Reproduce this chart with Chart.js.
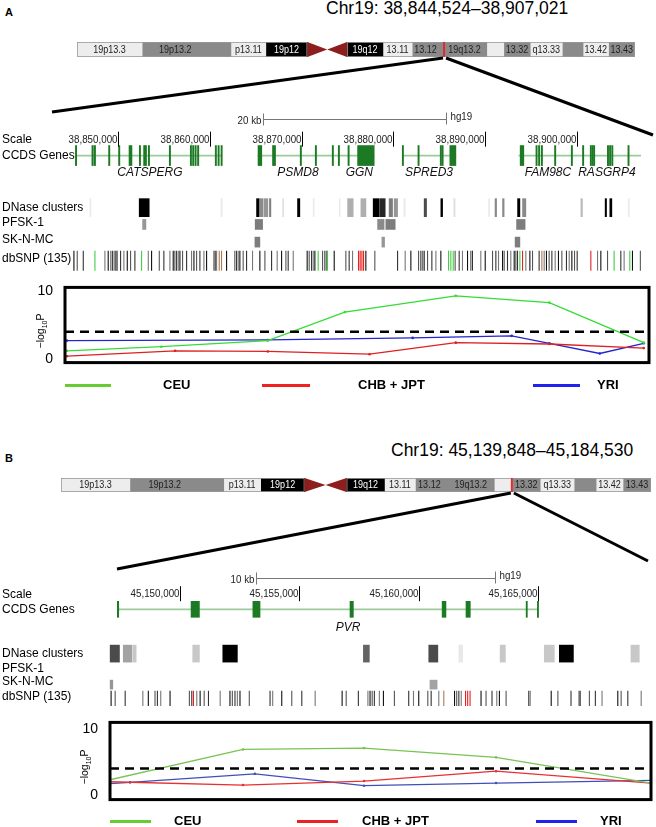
<!DOCTYPE html>
<html>
<head>
<meta charset="utf-8">
<script src="https://cdn.jsdelivr.net/npm/chart.js@4.4.0/dist/chart.umd.min.js"></script>
<style>
  body { margin: 0; background: #fff; font-family: "Liberation Sans", Arial, sans-serif; }
  #page { position: relative; width: 656px; height: 827px; overflow: hidden; }
  canvas { position: absolute; }
  .txt { position: absolute; white-space: nowrap; color: #000; }
  .plabel { font-weight: bold; font-size: 11px; line-height: 12px; }
  .title { font-size: 17.5px; line-height: 20px; }
  .legline { position: absolute; height: 3px; }
  .legtxt { font-weight: bold; font-size: 13px; line-height: 16px; }
</style>
</head>
<body>
<div id="page"></div>
<script>
// ---------- chromosome 19 ideogram (Mb) ----------
const bandStart = [0, 6.9, 13.9, 14.0, 16.3, 20.0, 24.4, 26.5, 28.6, 32.4, 35.5, 38.3, 38.7, 43.4, 45.2, 48.0, 51.4, 53.6, 56.3];
const bandEnd   = [6.9, 13.9, 14.0, 16.3, 20.0, 24.4, 26.5, 28.6, 32.4, 35.5, 38.3, 38.7, 43.4, 45.2, 48.0, 51.4, 53.6, 56.3, 59.1];
const bandStain = ['gneg','gpos50','gpos50','gpos50','gneg','gpos100','acenP','acenQ','gpos100','gneg','gpos50','gpos50','gpos50','gneg','gpos50','gneg','gpos50','gneg','gpos50'];
const bandNames = ['19p13.3','19p13.2','','','p13.11','19p12','','','19q12','13.11','13.12','','19q13.2','','13.32','q13.33','','13.42','13.43'];

// ---------- panel A : Chr19 38,844,524-38,907,021 (kb) ----------
const regionA = [38844.524, 38907.021];
const rulerA = [38850, 38860, 38870, 38880, 38890, 38900];
const geneSpanA = [[38845.39, 38861.31], [38865.23, 38877.92], [38881.05, 38886.83], [38893.69, 38907.0]];
const exonsA = [
  [38845.33,38845.47],[38847.13,38847.29],[38847.39,38847.53],[38848.95,38849.09],[38850.04,38850.18],
  [38851.18,38851.50],[38852.30,38852.44],[38852.77,38852.91],[38852.95,38853.09],[38853.28,38853.42],
  [38855.57,38855.71],[38857.86,38858.00],[38858.11,38858.25],[38858.37,38858.51],[38858.65,38858.79],
  [38860.58,38860.72],[38860.88,38861.02],[38861.21,38861.35],
  [38865.25,38865.66],[38866.83,38866.97],[38867.02,38867.16],[38869.85,38869.99],[38871.49,38871.63],
  [38873.34,38873.48],[38874.00,38874.14],[38875.06,38875.20],
  [38876.11,38877.92],
  [38880.98,38881.12],[38882.69,38882.83],[38885.12,38885.26],[38885.31,38885.45],[38886.17,38886.83],
  [38893.84,38894.24],[38895.56,38895.70],[38895.84,38895.98],[38896.14,38896.28],[38897.59,38897.73],[38899.41,38899.55],
  [38900.64,38900.78],[38901.48,38901.62],[38901.67,38901.81],[38901.84,38901.98],
  [38903.35,38903.49],[38903.58,38903.72],[38903.82,38903.96],[38905.59,38905.73]
];
const geneNamesA = ['CATSPERG', 'PSMD8', 'GGN', 'SPRED3', 'FAM98C', 'RASGRP4'];
const geneNamePosA = [38853.46, 38869.6, 38876.3, 38883.9, 38896.87, 38903.3];
const dnaseA = [
  [38846.91,38847.02],[38852.29,38853.38],[38861.20,38861.35],[38865.09,38865.38],[38865.45,38865.81],
  [38865.94,38866.32],[38866.50,38866.65],[38867.93,38868.05],[38869.56,38869.81],[38871.26,38871.38],
  [38874.10,38874.20],[38875.02,38875.63],[38876.47,38877.02],[38877.81,38878.46],[38878.54,38879.12],
  [38879.55,38879.92],[38880.10,38880.47],[38881.15,38881.30],[38883.37,38883.63],[38885.19,38885.38],
  [38886.60,38886.75],[38890.40,38890.52],[38891.10,38891.27],[38891.92,38892.09],[38893.56,38893.81],
  [38894.10,38894.46],[38900.46,38900.64],[38903.11,38903.26],[38903.62,38903.84],[38905.63,38905.75]
];
const dnaseScoreA = [0.06,1,0.06,1,0.45,0.4,0.5,0.1,1,0.06,0.06,0.3,0.3,1,0.85,0.5,0.4,0.06,0.7,1,0.1,0.06,0.45,0.45,1,0.45,0.25,1,1,0.06];
const pfskA = [[38852.66,38853.02],[38864.94,38865.75],[38878.29,38879.00],[38879.19,38880.21],[38893.45,38894.38]];
const pfskScoreA = [0.4, 0.5, 0.45, 0.5, 0.5];
const sknmcA = [[38864.91,38865.45],[38878.76,38879.05],[38893.29,38893.81]];
const sknmcScoreA = [0.5, 0.4, 0.5];
const snpA = [38845.17,38845.53,38846.19,38848.55,38848.91,38849.20,38849.39,38849.57,38849.75,38849.89,
  38850.26,38850.62,38850.99,38851.35,38851.82,38853.28,38853.64,38854.48,38854.98,38855.64,38856.00,38856.18,
  38856.37,38856.55,38856.73,38857.02,38857.46,38858.00,38858.26,38858.55,38858.91,38859.35,38859.64,38860.44,
  38860.58,38860.73,38861.82,38862.72,38862.91,38863.09,38863.27,38863.63,38864.00,38864.65,38865.45,38866.00,
  38866.73,38867.34,38867.82,38868.29,38868.54,38869.09,38870.61,38870.83,38871.09,38871.27,38871.45,38872.29,
  38872.54,38872.72,38873.56,38874.83,38875.19,38875.56,38877.01,38877.99,38880.47,38881.30,38881.92,38882.76,
  38883.01,38883.19,38883.37,38883.74,38884.21,38884.65,38885.19,38886.75,38887.19,38887.55,38888.10,38888.46,
  38888.64,38889.55,38890.03,38890.83,38891.19,38891.48,38891.92,38892.10,38892.46,38892.82,38893.19,38893.37,
  38893.55,38894.46,38894.90,38895.19,38895.91,38896.46,38896.71,38897.00,38897.30,38897.66,38898.02,38898.39,
  38898.89,38899.19,38899.48,38899.77,38900.06,38902.28,38902.64,38903.37,38904.82,38905.18,38906.09,38906.95];
const snpGreenA = [38847.46,38852.55,38871.81,38872.83,38886.03,38886.28,38886.54,38893.81,38904.09,38905.80];
const snpRedA = [38876.21,38876.39,38876.58,38876.76,38901.55,38894.10];
const snpBrownA = [38861.02,38861.27,38896.21];

// association plot A (x in kb, y = -log10 p)
const plotRangeA = [38844.19, 38907.87];
const ceuA = [[38844.4,1.2],[38854.7,1.8],[38866.3,2.7],[38874.7,6.9],[38886.8,9.3],[38897.0,8.3],[38907.3,2.4]];
const chbA = [[38844.4,0.4],[38856.2,1.2],[38866.3,1.1],[38877.4,0.7],[38886.8,2.4],[38897.0,2.2],[38907.3,1.6]];
const yriA = [[38844.4,2.7],[38866.3,2.8],[38882.1,3.1],[38892.9,3.4],[38897.0,2.3],[38902.5,0.8],[38907.3,2.3]];

// ---------- panel B : Chr19 45,139,848-45,184,530 (kb) ----------
const regionB = [45146.98, 45169.48];
const rulerB = [45150, 45155, 45160, 45165];
const geneSpanB = [[45147.37, 45164.99]];
const exonsB = [[45147.37,45147.43],[45150.46,45150.81],[45153.05,45153.35],[45157.12,45157.26],
  [45160.98,45161.14],[45161.98,45162.16],[45164.50,45164.55],[45164.97,45165.02]];
const geneNamesB = ['PVR'];
const geneNamePosB = [45157.04];
const dnaseB = [[45147.07,45147.46],[45147.62,45147.98],[45148.02,45148.16],[45150.53,45150.81],[45151.79,45152.40],
  [45157.68,45157.93],[45160.42,45160.80],[45161.68,45161.84],[45163.41,45163.63],[45165.26,45165.68],
  [45165.89,45166.48],[45168.89,45169.24]];
const dnaseScoreB = [0.7,0.35,0.2,0.2,1,0.6,0.7,0.07,0.2,0.2,1,0.2];
const pfskB = [];
const pfskScoreB = [];
const sknmcB = [[45147.07,45147.18],[45160.47,45160.77]];
const sknmcScoreB = [0.4, 0.35];
const snpB = [45147.11,45147.28,45147.70,45148.44,45148.67,45148.95,45149.05,45149.19,45149.58,45150.39,45150.49,
  45150.70,45150.84,45151.01,45151.19,45151.68,45152.09,45152.19,45152.30,45152.40,45152.51,45152.90,45153.77,
  45153.88,45154.26,45154.68,45155.10,45155.66,45156.79,45156.96,45157.47,45157.87,45157.96,45158.05,45158.14,
  45158.35,45158.52,45158.98,45159.58,45159.78,45160.00,45160.38,45160.52,45160.84,45161.50,45161.59,45161.68,
  45161.78,45162.61,45162.82,45163.07,45163.27,45163.38,45163.66,45164.61,45164.67,45165.55,45165.83,45166.38,
  45166.71,45166.76,45167.15,45167.40,45167.68,45168.34,45168.48,45168.76,45169.32];
const snpGreenB = [];
const snpRedB = [45161.96,45162.05,45162.15,45150.56];
const snpBrownB = [45161.05];

const plotRangeB = [45147.07, 45169.73];
const ceuB = [[45147.07,2.3],[45152.64,6.9],[45157.71,7.1],[45163.24,5.7],[45169.73,1.8]];
const chbB = [[45147.07,2.0],[45152.64,1.5],[45157.71,2.1],[45163.24,3.6],[45169.73,1.8]];
const yriB = [[45147.07,1.7],[45147.91,1.9],[45153.14,3.2],[45157.71,1.4],[45163.24,1.8],[45169.73,2.2]];

const threshold = 4;
const yTicks = [0, 10];
const trackNames = ['Scale', 'CCDS Genes', 'DNase clusters', 'PFSK-1', 'SK-N-MC', 'dbSNP (135)'];
const seriesNames = ['CEU', 'CHB + JPT', 'YRI'];

// ---------- drawing ----------
const page = document.getElementById('page');
const SANS = '"Liberation Sans", Arial, sans-serif';
const stainColor = { gneg: '#ededed', gpos50: '#8a8a8a', gpos100: '#000000' };
const acenColor = '#8e1d1d';
const gray = s => { const g = Math.round(250 * (1 - s)); return `rgb(${g},${g},${g})`; };

function addCanvas(left, top, w, h) {
  const c = document.createElement('canvas');
  c.width = w; c.height = h;
  Object.assign(c.style, { left: left + 'px', top: top + 'px', width: w + 'px', height: h + 'px' });
  page.appendChild(c);
  return c;
}
function addText(txt, cls, left, top) {
  const d = document.createElement('div');
  d.className = 'txt ' + cls;
  d.textContent = txt;
  d.style.left = left + 'px'; d.style.top = top + 'px';
  page.appendChild(d);
  return d;
}
function narrow(ctx, txt, x, y, align, sx) {
  ctx.save(); ctx.translate(x, y); ctx.scale(sx, 1);
  ctx.textAlign = align; ctx.fillText(txt, 0, 0); ctx.restore();
}

function ideogram(box, markerMb) {
  const cv = addCanvas(box.left, box.top, box.w, box.h);
  const plugin = {
    id: 'ideo',
    afterDatasetsDraw(chart) {
      const { ctx, chartArea: a, scales: { x } } = chart;
      const mid = (a.top + a.bottom) / 2;
      ctx.save();
      ctx.strokeStyle = '#9a9a9a'; ctx.lineWidth = 0.8;
      ctx.strokeRect(x.getPixelForValue(0) + 0.5, a.top + 0.5, x.getPixelForValue(24.4) - x.getPixelForValue(0) - 1, a.bottom - a.top - 1);
      ctx.strokeRect(x.getPixelForValue(28.6) + 0.5, a.top + 0.5, x.getPixelForValue(59.1) - x.getPixelForValue(28.6) - 1, a.bottom - a.top - 1);
      bandStart.forEach((s, i) => {
        const x0 = x.getPixelForValue(s), x1 = x.getPixelForValue(bandEnd[i]);
        if (bandStain[i] === 'acenP' || bandStain[i] === 'acenQ') {
          ctx.fillStyle = acenColor;
          ctx.beginPath();
          if (bandStain[i] === 'acenP') { ctx.moveTo(x0, a.top); ctx.lineTo(x1, mid); ctx.lineTo(x0, a.bottom); }
          else { ctx.moveTo(x1, a.top); ctx.lineTo(x0, mid); ctx.lineTo(x1, a.bottom); }
          ctx.closePath(); ctx.fill();
        }
        if (bandNames[i]) {
          ctx.fillStyle = bandStain[i] === 'gpos100' ? '#fff' : '#222';
          ctx.font = `10px ${SANS}`; ctx.textBaseline = 'middle';
          narrow(ctx, bandNames[i], (x0 + x1) / 2, mid + 0.5, 'center', 0.9);
        }
      });
      const mx = x.getPixelForValue(markerMb);
      ctx.strokeStyle = '#e8262b'; ctx.lineWidth = 2;
      ctx.beginPath(); ctx.moveTo(mx, a.top - 1); ctx.lineTo(mx, a.bottom + 1); ctx.stroke();
      ctx.restore();
    }
  };
  return new Chart(cv, {
    type: 'bar',
    data: {
      labels: ['chr19'],
      datasets: bandStart.map((s, i) => ({
        data: [[s, bandEnd[i]]],
        backgroundColor: bandStain[i].startsWith('acen') ? 'rgba(0,0,0,0)' : stainColor[bandStain[i]],
        borderWidth: 0, grouped: false, barPercentage: 1, categoryPercentage: 1
      }))
    },
    options: {
      indexAxis: 'y', animation: false, responsive: false, events: [],
      layout: { padding: 0 },
      plugins: { legend: { display: false }, tooltip: { enabled: false } },
      scales: { x: { type: 'linear', min: 0, max: 59.1, display: false }, y: { display: false } }
    },
    plugins: [plugin]
  });
}

function tracks(P) {
  const cv = addCanvas(0, P.top, 656, P.h);
  const R = P.rows;
  const bars = (pairs, y, thick, color) => ({
    type: 'bar', indexAxis: 'y', grouped: false, barThickness: thick,
    data: pairs.map(p => ({ x: [p[0], p[1]], y })),
    backgroundColor: color, borderWidth: 0
  });
  const snps = (pos, colors) => ({
    type: 'scatter',
    data: pos.map(v => ({ x: v, y: R.dbsnp })),
    pointStyle: 'line', pointRotation: 90, pointRadius: P.snpH / 2,
    pointBorderWidth: 1.1, pointBorderColor: colors, pointBackgroundColor: colors
  });
  const grays = ['#111', '#555', '#333', '#777'];
  const plugin = {
    id: 'tracklabels',
    afterDatasetsDraw(chart) {
      const { ctx, scales: { x, y } } = chart;
      ctx.save();
      ctx.fillStyle = '#000'; ctx.strokeStyle = '#000';
      ctx.font = `12px ${SANS}`; ctx.textBaseline = 'middle'; ctx.textAlign = 'left';
      const labelRows = [R.ruler, R.genes, R.dnase, R.pfsk - 2, R.sknmc - 3, R.dbsnp - 2];
      trackNames.forEach((t, i) => ctx.fillText(t, 2, y.getPixelForValue(labelRows[i])));
      // ruler
      ctx.font = `11.5px ${SANS}`; ctx.fillStyle = '#222'; ctx.lineWidth = 1;
      P.ruler.forEach(v => {
        const px = Math.round(x.getPixelForValue(v)) + 0.5, py = y.getPixelForValue(R.ruler);
        narrow(ctx, (v * 1000).toLocaleString('en-US'), px - 1, py, 'right', 0.85);
        ctx.beginPath(); ctx.moveTo(px, py - 8); ctx.lineTo(px, py + 7); ctx.stroke();
      });
      // scale bar
      const sb = P.scaleBar, sy = Math.round(y.getPixelForValue(R.scalebar)) + 0.5;
      const s0 = Math.round(x.getPixelForValue(sb.start)) + 0.5, s1 = Math.round(x.getPixelForValue(sb.start + sb.len)) + 0.5;
      ctx.strokeStyle = '#777';
      ctx.beginPath(); ctx.moveTo(s0, sy); ctx.lineTo(s1, sy);
      ctx.moveTo(s0, sy - 6); ctx.lineTo(s0, sy + 6); ctx.moveTo(s1, sy - 7); ctx.lineTo(s1, sy + 5); ctx.stroke();
      ctx.fillStyle = '#222';
      narrow(ctx, sb.len + ' kb', s0 - 2, sy + 1, 'right', 0.85);
      narrow(ctx, 'hg19', s1 + 4, sy - 3, 'left', 0.85);
      // gene names
      ctx.fillStyle = '#111'; ctx.font = `italic 12px ${SANS}`; ctx.textAlign = 'center';
      P.geneNames.forEach((g, i) => ctx.fillText(g, x.getPixelForValue(P.geneNamePos[i]), y.getPixelForValue(R.names)));
      ctx.restore();
    }
  };
  return new Chart(cv, {
    type: 'bar',
    data: {
      datasets: [
        snps(P.snpRed, '#e82020'),
        snps(P.snpGreen, '#44cc44'),
        snps(P.snpBrown, '#b07a50'),
        snps(P.snp, P.snp.map((v, i) => grays[i % 4])),
        bars(P.sknmc, R.sknmc, P.smallH, P.sknmcScore.map(gray)),
        bars(P.pfsk, R.pfsk, P.smallH, P.pfskScore.map(gray)),
        bars(P.dnase, R.dnase, P.dnaseH, P.dnaseScore.map(gray)),
        bars(P.exons, R.genes, P.exonH, '#1d7a24'),
        bars(P.geneSpan, R.genes, 1, '#9ccc9c')
      ]
    },
    options: {
      animation: false, responsive: false, events: [],
      layout: { padding: { left: P.padL, right: P.padR, top: 0, bottom: 0 } },
      plugins: { legend: { display: false }, tooltip: { enabled: false } },
      scales: {
        x: { type: 'linear', min: P.region[0], max: P.region[1], display: false, offset: false },
        y: { type: 'linear', min: 0, max: P.h, reverse: true, display: false, offset: false }
      }
    },
    plugins: [plugin]
  });
}

function assocPlot(P) {
  const cv = addCanvas(0, P.top, 656, P.h);
  const pts = arr => arr.map(([x, y]) => ({ x, y }));
  const line = (data, color) => ({
    data: pts(data), borderColor: color, backgroundColor: color, borderWidth: 1.3,
    pointRadius: 1.3, pointBorderWidth: 0, tension: 0
  });
  const plugin = {
    id: 'box',
    afterDraw(chart) {
      const { ctx, chartArea: a } = chart;
      ctx.save();
      ctx.strokeStyle = '#000'; ctx.lineWidth = 3;
      ctx.strokeRect(a.left, a.top, a.right - a.left, a.bottom - a.top);
      // y axis title  -log10 P
      ctx.translate(P.titleX, (a.top + a.bottom) / 2 + 6);
      ctx.rotate(-Math.PI / 2);
      ctx.fillStyle = '#000'; ctx.textBaseline = 'alphabetic'; ctx.textAlign = 'left';
      ctx.font = `10.5px ${SANS}`;
      const w1 = ctx.measureText('\u2212log').width;
      ctx.font = `7px ${SANS}`;
      const w2 = ctx.measureText('10').width;
      ctx.font = `10.5px ${SANS}`;
      const w3 = ctx.measureText('P').width;
      let cx = -(w1 + w2 + w3) / 2;
      ctx.fillText('\u2212log', cx, 4); cx += w1;
      ctx.font = `7px ${SANS}`; ctx.fillText('10', cx, 7); cx += w2;
      ctx.font = `10.5px ${SANS}`; ctx.fillText('P', cx, 4);
      ctx.restore();
    }
  };
  return new Chart(cv, {
    type: 'line',
    data: {
      datasets: [
        { data: [{ x: P.range[0], y: threshold }, { x: P.range[1], y: threshold }], borderColor: '#000',
          borderWidth: 2.6, borderDash: [9, 6], pointRadius: 0 },
        line(P.ceu, P.colors[0]),
        line(P.chb, P.colors[1]),
        line(P.yri, P.colors[2])
      ]
    },
    options: {
      animation: false, responsive: false, events: [],
      layout: { padding: { left: 0, right: P.padR, top: P.padT, bottom: P.padB } },
      plugins: { legend: { display: false }, tooltip: { enabled: false } },
      scales: {
        x: { type: 'linear', min: P.range[0], max: P.range[1], display: false },
        y: {
          type: 'linear', min: P.yMin, max: P.yMax,
          grid: { display: false }, border: { display: false },
          afterBuildTicks: s => { s.ticks = yTicks.map(v => ({ value: v })); },
          afterFit: s => { s.width = P.boxLeft; },
          ticks: { color: '#000', font: { family: SANS, size: 14 }, padding: 4 }
        }
      }
    },
    plugins: [plugin]
  });
}

function legend(L) {
  const colors = ['#66cc33', '#ee2222', '#2222ee'];
  seriesNames.forEach((n, i) => {
    const d = document.createElement('div');
    d.className = 'legline';
    Object.assign(d.style, { left: L.lines[i][0] + 'px', width: (L.lines[i][1] - L.lines[i][0]) + 'px', top: (L.y - 1.5) + 'px', background: colors[i] });
    page.appendChild(d);
    addText(n, 'legtxt', L.text[i], L.y - 8);
  });
}

function zoomLines(ideo, box, apexY, leftEnd, rightEnd, markerMb) {
  const ov = addCanvas(0, 0, 656, 827);
  ov.style.pointerEvents = 'none';
  const ctx = ov.getContext('2d');
  const ax = box.left + ideo.scales.x.getPixelForValue(markerMb);
  ctx.strokeStyle = '#000'; ctx.lineWidth = 3;
  ctx.beginPath();
  ctx.moveTo(ax - 1, apexY); ctx.lineTo(leftEnd[0], leftEnd[1]);
  ctx.moveTo(ax + 2, apexY); ctx.lineTo(rightEnd[0], rightEnd[1]);
  ctx.stroke();
}

// ----- panel A -----
addText('A', 'plabel', 5, 6);
addText('Chr19: 38,844,524\u201338,907,021', 'title', 326, -2);
const markerA = (regionA[0] + regionA[1]) / 2000;
const ideoBoxA = { left: 77, top: 42, w: 558, h: 15 };
const ideoA = ideogram(ideoBoxA, markerA);
tracks({
  top: 95, h: 190, padL: 68, padR: 15, region: regionA, ruler: rulerA,
  rows: { scalebar: 15, ruler: 38, genes: 56, names: 75, dnase: 115, pfsk: 134, sknmc: 154, dbsnp: 175 },
  exonH: 20, dnaseH: 18, smallH: 10, snpH: 20,
  scaleBar: { start: 38865.78, len: 20 },
  geneSpan: geneSpanA, exons: exonsA, geneNames: geneNamesA, geneNamePos: geneNamePosA,
  dnase: dnaseA, dnaseScore: dnaseScoreA, pfsk: pfskA, pfskScore: pfskScoreA, sknmc: sknmcA, sknmcScore: sknmcScoreA,
  snp: snpA, snpGreen: snpGreenA, snpRed: snpRedA, snpBrown: snpBrownA
});
assocPlot({
  top: 275, h: 100, padT: 9, padB: 9, padR: 7, boxLeft: 65, titleX: 40,
  range: plotRangeA, yMin: -0.54, yMax: 10.54,
  ceu: ceuA, chb: chbA, yri: yriA, colors: ['#33dd33', '#e02020', '#2424d0']
});
legend({ y: 385, lines: [[65, 111], [262, 310], [533, 580]], text: [163, 358, 597] });

// ----- panel B -----
addText('B', 'plabel', 5, 452);
addText('Chr19: 45,139,848\u201345,184,530', 'title', 391, 440);
const markerB = 45.162;
const ideoBoxB = { left: 61, top: 478, w: 590, h: 14 };
const ideoB = ideogram(ideoBoxB, markerB);
tracks({
  top: 555, h: 160, padL: 108, padR: 11, region: regionB, ruler: rulerB,
  rows: { scalebar: 16, ruler: 34, genes: 51, names: 72, dnase: 101, pfsk: 120, sknmc: 136, dbsnp: 152 },
  exonH: 16, dnaseH: 17, smallH: 9, snpH: 16,
  scaleBar: { start: 45153.18, len: 10 },
  geneSpan: geneSpanB, exons: exonsB, geneNames: geneNamesB, geneNamePos: geneNamePosB,
  dnase: dnaseB, dnaseScore: dnaseScoreB, pfsk: pfskB, pfskScore: pfskScoreB, sknmc: sknmcB, sknmcScore: sknmcScoreB,
  snp: snpB, snpGreen: snpGreenB, snpRed: snpRedB, snpBrown: snpBrownB
});
assocPlot({
  top: 710, h: 102, padT: 10, padB: 10, padR: 5, boxLeft: 110, titleX: 84,
  range: plotRangeB, yMin: -0.71, yMax: 11,
  ceu: ceuB, chb: chbB, yri: yriB, colors: ['#77c455', '#e83030', '#4050b8']
});
legend({ y: 821, lines: [[110, 151], [297, 338], [536, 577]], text: [174, 362, 600] });

zoomLines(ideoA, ideoBoxA, 58, [52, 112], [653, 135], markerA);
zoomLines(ideoB, ideoBoxB, 493, [117, 569], [648, 561], markerB);
</script>
</body>
</html>
